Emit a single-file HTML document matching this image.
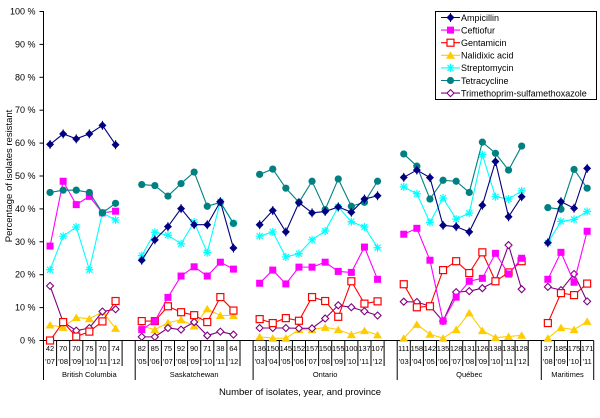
<!DOCTYPE html>
<html><head><meta charset="utf-8"><style>
html,body{margin:0;padding:0;background:#fff;}
svg{display:block;font-family:"Liberation Sans",sans-serif;}
</style></head><body>
<svg id="chart" width="600" height="418" viewBox="0 0 600 418"></svg>
<script>
const groups = ["British Columbia","Saskatchewan","Ontario","Québec","Maritimes"];
const groupCounts = [["42","70","70","75","70","74"],["82","85","75","92","90","71","38","64"],["136","150","145","152","157","150","155","100","137","107"],["111","158","142","135","128","131","126","138","133","128"],["37","185","175","171"]];
const groupYears = [["'07","'08","'09","'10","'11","'12"],["'05","'06","'07","'08","'09","'10","'11","'12"],["'03","'04","'05","'06","'07","'08","'09","'10","'11","'12"],["'03","'04","'05","'06","'07","'08","'09","'10","'11","'12"],["'08","'09","'10","'11"]];
const seriesNames = ["Ampicillin","Ceftiofur","Gentamicin","Nalidixic acid","Streptomycin","Tetracycline","Trimethoprim-sulfamethoxazole"];
const ampicillin = [[59.6,62.8,61.3,62.8,65.4,59.5],[24.4,30.6,34.6,40.1,35.2,35.2,42.2,28.1],[35.2,39.5,33,41.9,38.8,39.2,40.6,39,43,44],[49.6,51.8,49.5,35,34.6,33,41.1,54.4,37.6,43.7],[29.7,42.2,40.2,52.3]];
const ceftiofur = [[28.7,48.4,41.3,43.8,38.8,39.3],[3.3,5.9,13.1,19.6,22.4,19.6,23.8,21.7],[17.4,21.4,17.2,22.3,22.3,23.8,21,20.7,28.4,18.6],[32.3,34.1,24.4,5.9,13.2,18,18.9,26.5,20.2,25],[18.6,26.8,17.7,33.2]];
const gentamicin = [[0,5.6,1.2,2.7,5.8,12],[5.9,5.9,10.4,8.6,7.7,5.6,13.2,9.1],[6.5,5.3,6.8,6,13.2,12,7.2,18,11.2,11.9],[17.1,10.1,10.4,21.4,24.1,20.5,26.8,18,20.7,24.1],[5.3,14.4,13.8,17.3]];
const nalidixic = [[4.7,4,7,6.6,8.7,3.7],[4.4,3.3,5.4,6.3,4.4,9.6,7.6,7.6],[1.1,0.7,0.7,3.3,3.3,4,3.3,1.8,3,1.7],[0.7,4.9,1.9,0.7,3.3,8.4,3,0.9,1.2,1.6],[0.7,3.9,3.3,5.8]];
const streptomycin = [[21.5,31.7,34.5,21.5,38.8,36.6],[25.8,32.9,32,29.4,36,26.7,42.2,35.6],[31.7,33,25.4,26.4,30.6,33.3,40.6,36.1,34.5,28.2],[46.7,44.6,35.9,43.3,36.9,38.7,56.5,43.7,43,45.5],[29.7,36.2,36.8,39.2]];
const tetracycline = [[45,45.7,45.7,45,38.8,41.7],[47.4,47.1,43.9,47.7,51.2,40.8,42,35.6],[50.5,52.1,46.3,42,48.4,39.8,49.1,40.8,42,48.4],[56.7,53,43,48.7,48.4,45,60.3,56.9,51.8,59.1],[40.4,39.9,52,46.3]];
const tmpSmx = [[16.6,5.6,3,3.8,8.8,9.5],[1.1,1.1,3.8,3.3,5.6,1.5,2.7,1.8],[3.8,3.8,3.8,3.7,3.7,6.7,10.7,10.1,8.9,7.6],[11.8,11.7,10.4,5.9,14.7,15,15.9,18,29,15.6],[16.3,15.3,20.2,11.9]];
const yTicks = ["0 %","10 %","20 %","30 %","40 %","50 %","60 %","70 %","80 %","90 %","100 %"];

const NS="http://www.w3.org/2000/svg";
const svg=document.getElementById('chart');
function mk(tag,attrs,parent){const e=document.createElementNS(NS,tag);for(const k in attrs)e.setAttribute(k,attrs[k]);(parent||svg).appendChild(e);return e;}
const X0=43.5, SLOT=13.1, Y0=340.5, YH=329;
const yScale=v=>Y0-v/100*YH;
const slotStart=[];let s=0;
groupCounts.forEach((g,i)=>{slotStart.push(s);s+=g.length+(i<groupCounts.length-1?1:0);});
const xSlot=i=>X0+(i+0.5)*SLOT;

const ya=mk('line',{x1:X0,y1:11,x2:X0,y2:Y0,stroke:'#000','stroke-width':1});

yTicks.forEach((t,i)=>{
  const y=yScale(i*10);
  const tk=mk('line',{x1:X0-4,y1:y,x2:X0,y2:y,stroke:'#000'});
  
  const tx=mk('text',{x:X0-8,y:y+3,'font-size':'9','text-anchor':'end'});tx.textContent=t;
  
});
const yt=mk('text',{x:0,y:0,'font-size':'9.5','text-anchor':'middle',transform:'translate(12,176) rotate(-90)'});
yt.textContent='Percentage of isolates resistant';


const xa=mk('line',{x1:X0,y1:Y0,x2:X0+42*SLOT,y2:Y0,stroke:'#000'});

groupCounts.forEach((g,gi)=>{
  const st=slotStart[gi];
  const end = gi<groupCounts.length-1 ? st+g.length+1 : st+g.length;
  const bx=X0+st*SLOT;
  const b=mk('line',{x1:bx,y1:Y0,x2:bx,y2:380,stroke:'#000'});
  
  if(gi==groupCounts.length-1){const b2=mk('line',{x1:X0+end*SLOT,y1:Y0,x2:X0+end*SLOT,y2:380,stroke:'#000'});
    }
  g.forEach((c,k)=>{
    const x=xSlot(st+k);
    const tx=X0+(st+k+1)*SLOT;
    if(!(gi==groupCounts.length-1&&k==g.length-1)){
      const t=mk('line',{x1:tx,y1:Y0,x2:tx,y2:366,stroke:'#000'});
      }
    const n=mk('text',{x:x,y:351,'font-size':'7.5','text-anchor':'middle'});n.textContent=c;
    
    const yr=mk('text',{x:x,y:364,'font-size':'7.5','text-anchor':'middle'});yr.textContent=groupYears[gi][k];
    
  });
  const cx=(X0+st*SLOT+X0+end*SLOT)/2;
  const gl=mk('text',{x:cx,y:377,'font-size':'7.5','text-anchor':'middle'});gl.textContent=groups[gi];
  
});
const xt=mk('text',{x:300,y:395,'font-size':'9.5','text-anchor':'middle'});
xt.textContent='Number of isolates, year, and province';


function marker(kind,x,y,color,parent){
  let e;
  if(kind==='diamond'){e=mk('polygon',{points:`${x},${y-4} ${x+4},${y} ${x},${y+4} ${x-4},${y}`,fill:color},parent);
    mk('line',{x1:x,y1:y-4.5,x2:x,y2:y+4.5,stroke:color},parent);}
  else if(kind==='square'){e=mk('rect',{x:x-3.5,y:y-3.5,width:7,height:7,fill:color},parent);}
  else if(kind==='osquare'){e=mk('rect',{x:x-3.5,y:y-3.5,width:7,height:7,fill:'#fff',stroke:color,'stroke-width':1.2},parent);}
  else if(kind==='triangle'){e=mk('polygon',{points:`${x},${y-4} ${x+4.5},${y+3.5} ${x-4.5},${y+3.5}`,fill:color},parent);}
  else if(kind==='star'){e=mk('path',{d:`M${x-4} ${y}H${x+4}M${x} ${y-4}V${y+4}M${x-3} ${y-3}L${x+3} ${y+3}M${x-3} ${y+3}L${x+3} ${y-3}`,stroke:color,'stroke-width':1.2},parent);}
  else if(kind==='circle'){e=mk('circle',{cx:x,cy:y,r:3.6,fill:color},parent);}
  else if(kind==='odiamond'){e=mk('polygon',{points:`${x},${y-3.5} ${x+3.5},${y} ${x},${y+3.5} ${x-3.5},${y}`,fill:'#fff',stroke:color,'stroke-width':1.1},parent);}
  return e;
}
const seriesData=[ampicillin,ceftiofur,gentamicin,nalidixic,streptomycin,tetracycline,tmpSmx];
const colors=['#000080','#FF00FF','#FF0000','#FFCC00','#00FFFF','#008080','#800080'];
const markers=['diamond','square','osquare','triangle','star','circle','odiamond'];
const slugs=['ampicillin','ceftiofur','gentamicin','nalidixic-acid','streptomycin','tetracycline','tmp-smx'];
const order=[3,6,2,1,4,5,0];
order.forEach(si=>{
  const g=mk('g',{});
  
  
  seriesData[si].forEach((vals,gi)=>{
    const pts=vals.map((v,k)=>[xSlot(slotStart[gi]+k),yScale(v)]);
    const pl=mk('polyline',{points:pts.map(p=>p.join(',')).join(' '),fill:'none',stroke:colors[si],'stroke-width':1.1},g);
    
    
    pts.forEach(p=>{const m=marker(markers[si],p[0],p[1],colors[si],g);
      
      });
  });
});

const lg=mk('g',{});

const lb=mk('rect',{x:435.5,y:11.5,width:161,height:88,fill:'#fff',stroke:'#000'},lg);

seriesNames.forEach((n,i)=>{
  const y=17.5+i*12.6;
  const e=mk('g',{},lg);
  
  
  mk('line',{x1:441,y1:y,x2:460,y2:y,stroke:colors[i],'stroke-width':1.1},e);
  marker(markers[i],450.5,y,colors[i],e);
  const t=mk('text',{x:461,y:y+3.3,'font-size':'9'},e);t.textContent=n;
});
</script>
</body></html>
